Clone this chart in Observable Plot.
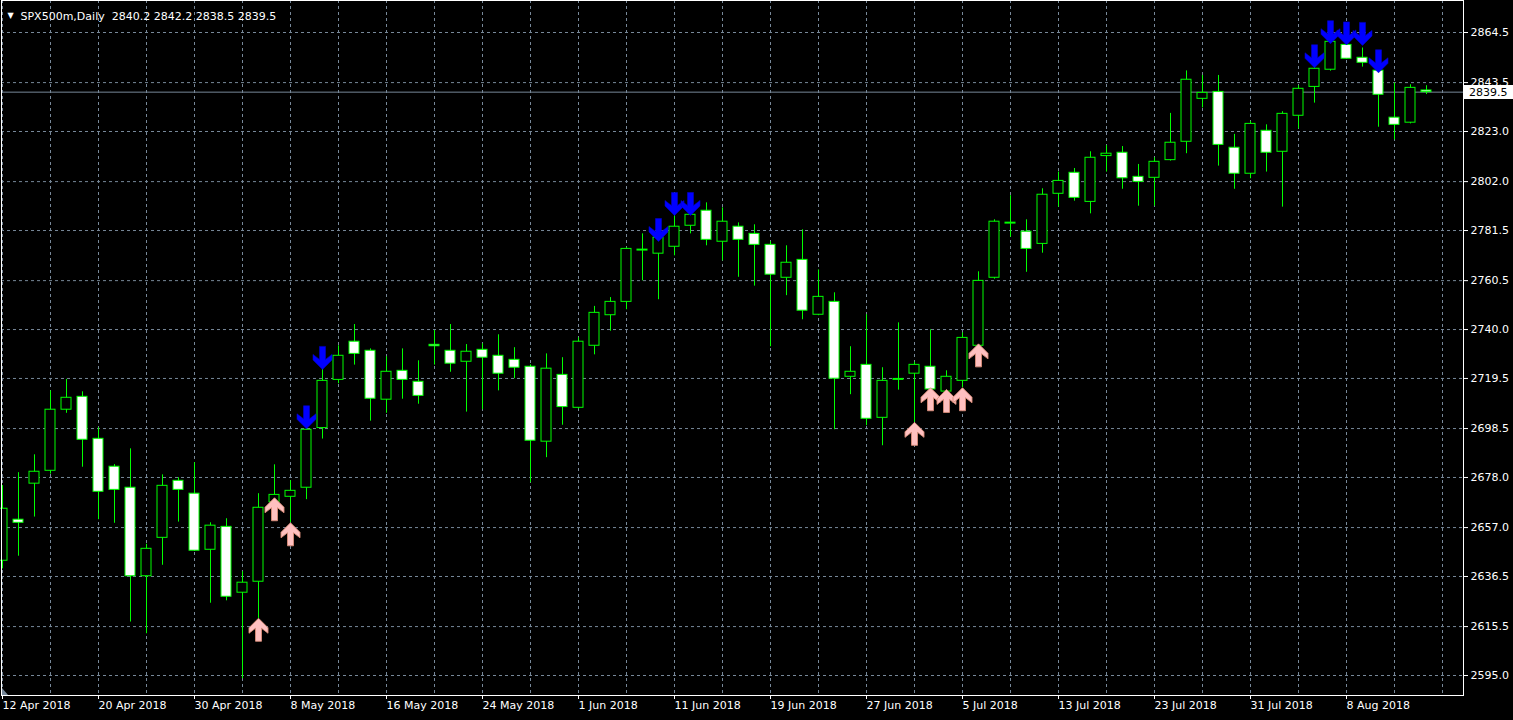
<!DOCTYPE html>
<html>
<head>
<meta charset="utf-8">
<script src="https://cdn.jsdelivr.net/npm/d3@7"></script>
<script src="https://cdn.jsdelivr.net/npm/@observablehq/plot@0.6"></script>
<style>
  html, body { margin: 0; padding: 0; background: #000; }
  #chart { width: 1513px; height: 720px; overflow: hidden; }
</style>
</head>
<body>
<div id="chart"></div>
<script>
// ---- data (SPX500m, Daily) ----
const symbolName = "SPX500m,Daily";
const opens = [2643.1,2660.3,2675.4,2680.8,2706.4,2711.8,2694.2,2682.5,2673.7,2636.6,
  2652.7,2676.6,2671.2,2647.7,2657.3,2629.7,2634.3,2667.6,2669.9,2673.7,
  2698.7,2718.9,2734.9,2731.1,2710.6,2722.7,2718.1,2733.6,2731.1,2726.5,
  2731.5,2729.0,2727.3,2724.4,2693.0,2721.0,2707.2,2733.2,2746.0,2751.6,
  2773.1,2771.8,2774.7,2783.5,2789.8,2776.8,2783.1,2780.1,2775.5,2761.7,
  2769.2,2746.2,2751.6,2720.2,2725.2,2703.0,2718.9,2721.5,2724.4,2714.0,
  2718.5,2733.2,2761.7,2784.4,2781.0,2775.9,2796.9,2805.7,2793.5,2812.7,
  2814.1,2804.0,2803.6,2811.0,2818.7,2836.7,2839.6,2816.2,2805.3,2823.3,
  2814.5,2829.6,2841.7,2848.9,2859.3,2853.9,2848.5,2828.8,2826.7,2840.2];
const highs = [2674.6,2680.0,2687.5,2714.3,2719.1,2713.9,2698.8,2683.4,2690.0,2650.0,
  2679.1,2677.9,2684.2,2659.0,2660.7,2638.5,2671.2,2683.3,2676.7,2699.0,
  2723.3,2733.2,2742.1,2731.9,2728.6,2731.9,2726.9,2739.6,2742.1,2733.7,
  2734.0,2737.8,2732.4,2725.2,2729.8,2728.2,2736.5,2749.7,2753.4,2774.3,
  2780.1,2779.8,2787.8,2789.9,2793.1,2791.0,2784.7,2783.9,2776.8,2775.1,
  2781.8,2765.0,2755.4,2732.8,2746.2,2724.0,2742.8,2726.3,2739.9,2722.7,
  2738.6,2764.2,2786.0,2796.1,2786.0,2799.0,2806.0,2807.5,2814.5,2817.1,
  2816.7,2809.2,2812.0,2830.6,2848.4,2846.5,2846.5,2821.8,2827.2,2825.8,
  2831.3,2842.2,2849.8,2861.2,2860.0,2858.0,2849.5,2843.3,2842.6,2842.2];
const lows = [2639.7,2645.0,2661.4,2679.4,2704.9,2682.3,2660.3,2658.8,2617.4,2612.5,
  2641.2,2659.3,2647.0,2625.3,2626.3,2593.6,2618.9,2666.5,2659.0,2668.7,
  2694.1,2717.3,2725.1,2701.6,2704.9,2710.8,2708.7,2725.1,2722.1,2705.4,
  2706.4,2714.3,2719.4,2675.8,2686.3,2699.9,2706.6,2729.4,2739.3,2748.3,
  2760.4,2752.5,2770.9,2780.1,2775.1,2768.8,2761.9,2758.2,2732.8,2754.2,
  2744.1,2745.8,2698.0,2712.7,2699.7,2691.3,2714.6,2701.1,2714.5,2713.6,
  2715.6,2733.0,2761.1,2778.7,2764.0,2772.0,2791.3,2793.8,2788.5,2806.0,
  2798.8,2791.7,2791.7,2810.6,2813.7,2832.9,2808.5,2798.8,2803.2,2806.0,
  2791.3,2824.1,2834.9,2848.3,2853.3,2850.0,2824.8,2819.5,2826.2,2838.5];
const closes = [2664.9,2659.0,2680.4,2706.4,2711.4,2693.8,2672.0,2672.8,2636.6,2648.1,
  2674.5,2672.8,2647.3,2657.8,2628.0,2633.9,2665.3,2670.7,2672.4,2698.0,
  2718.5,2729.0,2729.8,2711.0,2722.3,2718.9,2712.2,2733.0,2725.7,2730.7,
  2728.2,2721.5,2724.0,2693.4,2723.6,2707.5,2734.9,2747.0,2751.6,2773.8,
  2773.5,2778.5,2783.1,2788.1,2777.6,2785.2,2777.6,2775.5,2763.0,2768.0,
  2747.9,2753.7,2719.4,2722.3,2702.6,2718.5,2719.3,2725.2,2714.9,2720.2,
  2736.5,2760.4,2785.2,2784.8,2773.8,2796.5,2802.3,2795.2,2812.0,2813.7,
  2803.4,2801.9,2810.3,2818.3,2844.7,2839.2,2817.4,2805.3,2826.2,2814.1,
  2830.4,2840.9,2849.3,2860.6,2853.5,2851.8,2838.4,2825.8,2841.3,2839.5];

// date labels (every 6th bar)
const dateTickBars = [0,6,12,18,24,30,36,42,48,54,60,66,72,78,84];
const dateTickLabels = ["12 Apr 2018","20 Apr 2018","30 Apr 2018","8 May 2018","16 May 2018",
  "24 May 2018","1 Jun 2018","11 Jun 2018","19 Jun 2018","27 Jun 2018","5 Jul 2018",
  "13 Jul 2018","23 Jul 2018","31 Jul 2018","8 Aug 2018"];
// price scale labels
const priceTicks = [2864.5,2843.5,2823.0,2802.0,2781.5,2760.5,2740.0,2719.5,2698.5,2678.0,2657.0,2636.5,2615.5,2595.0];

// signal arrows: bar index and price of the arrow tip
const sellBars   = [19,20,41,42,43,82,83,84,85,86];
const sellPrices = [2698.4,2723.3,2776.9,2787.8,2787.8,2849.7,2859.8,2859.3,2859.1,2847.6];
const buyBars    = [16,17,18,57,58,59,60,61];
const buyPrices  = [2619.0,2669.5,2659.0,2701.1,2715.6,2714.9,2715.6,2734.0];

const lastPrice = closes[closes.length - 1];

// ---- build tables ----
const bars = opens.map((o, i) => ({i, o, h: highs[i], l: lows[i], c: closes[i]}));
const sells = sellBars.map((i, k) => ({i, p: sellPrices[k]}));
const buys = buyBars.map((i, k) => ({i, p: buyPrices[k]}));
const gridBars = d3.range(0, 91, 3);

const downArrow = {draw(ctx) {
  ctx.moveTo(0, 0); ctx.lineTo(-9.5, -9.5); ctx.lineTo(-9.5, -15); ctx.lineTo(-3, -10);
  ctx.lineTo(-3, -23); ctx.lineTo(3, -23); ctx.lineTo(3, -10); ctx.lineTo(9.5, -15);
  ctx.lineTo(9.5, -9.5); ctx.closePath();
}};
const upArrow = {draw(ctx) {
  ctx.moveTo(0, 0); ctx.lineTo(-9.5, 9.5); ctx.lineTo(-9.5, 15); ctx.lineTo(-3, 10);
  ctx.lineTo(-3, 23); ctx.lineTo(3, 23); ctx.lineTo(3, 10); ctx.lineTo(9.5, 15);
  ctx.lineTo(9.5, 9.5); ctx.closePath();
}};

const GRID = "#778899";
const GREEN = "#00ff00";
const FONT = "DejaVu Sans, Verdana, sans-serif";
const halfBody = 5 / 16; // in bar units (16px per bar)
const last = bars[bars.length - 1];
const headerText = `${symbolName}  ${last.o.toFixed(1)} ${last.h.toFixed(1)} ${last.l.toFixed(1)} ${last.c.toFixed(1)}`;

const plot = Plot.plot({
  width: 1513,
  height: 720,
  marginLeft: 1,
  marginRight: 50,
  marginTop: 0,
  marginBottom: 25,
  style: {background: "#000", color: "#fff", fontFamily: FONT, fontSize: "11px"},
  x: {type: "linear", domain: [0, 89], range: [2, 1426]},
  y: {type: "linear", domain: [2595, 2864.5], range: [675, 32]},
  marks: [
    Plot.gridX(gridBars, {stroke: GRID, strokeOpacity: 1, strokeDasharray: "3,3"}),
    Plot.gridY(priceTicks, {stroke: GRID, strokeOpacity: 1, strokeDasharray: "3,3"}),
    Plot.ruleY([lastPrice], {stroke: GRID, strokeWidth: 1}),
    Plot.ruleX(bars, {x: "i", y1: "l", y2: "h", stroke: GREEN, strokeWidth: 1}),
    Plot.rect(bars, {
      x1: d => d.i - halfBody, x2: d => d.i + halfBody,
      y1: "o", y2: "c",
      fill: d => d.c > d.o ? "#000" : "#fff",
      stroke: GREEN, strokeWidth: 1
    }),
    Plot.dot(sells, {x: "i", y: "p", symbol: downArrow, r: 5, fill: "#0000ff", stroke: "#0000c8", strokeWidth: 0.6}),
    Plot.dot(buys, {x: "i", y: "p", symbol: upArrow, r: 5, fill: "#ffc0c0", stroke: "#d98c78", strokeWidth: 0.9}),
    Plot.frame({stroke: "#fff", strokeWidth: 1}),
    Plot.axisX({
      anchor: "bottom", ticks: dateTickBars,
      tickFormat: i => dateTickLabels[dateTickBars.indexOf(i)],
      tickSize: 4, tickPadding: 2, textAnchor: "start", dx: 0,
      color: "#fff", fontSize: 11, label: null
    }),
    Plot.axisY({
      anchor: "right", ticks: priceTicks,
      tickFormat: d => d.toFixed(1),
      tickSize: 4, tickPadding: 3,
      color: "#fff", fontSize: 11, label: null
    }),
    Plot.text([headerText], {frameAnchor: "top-left", dx: 19, dy: 12, textAnchor: "start",
      fill: "#fff", fontSize: 11, text: d => d}),
    Plot.text(["\u25BC"], {frameAnchor: "top-left", dx: 9, dy: 11.5, textAnchor: "middle",
      fill: "#fff", fontSize: 8, text: d => d})
  ]
});

document.getElementById("chart").appendChild(plot);

// current price label on the price scale
const svg = d3.select(plot);
const yLast = plot.scale("y").apply(lastPrice);
svg.append("rect").attr("x", 1464).attr("y", Math.round(yLast) - 7).attr("width", 49).attr("height", 14).attr("fill", "#fff");
svg.append("text").attr("x", 1469).attr("y", yLast + 0.5).attr("dy", "0.36em")
  .attr("text-anchor", "start")
  .attr("fill", "#000").attr("font-family", FONT).attr("font-size", 11).text(lastPrice.toFixed(1));
// chart shift marker
svg.append("path").attr("d", "M2,688 L2,695 L8,695 Z").attr("fill", GRID);
</script>
</body>
</html>
